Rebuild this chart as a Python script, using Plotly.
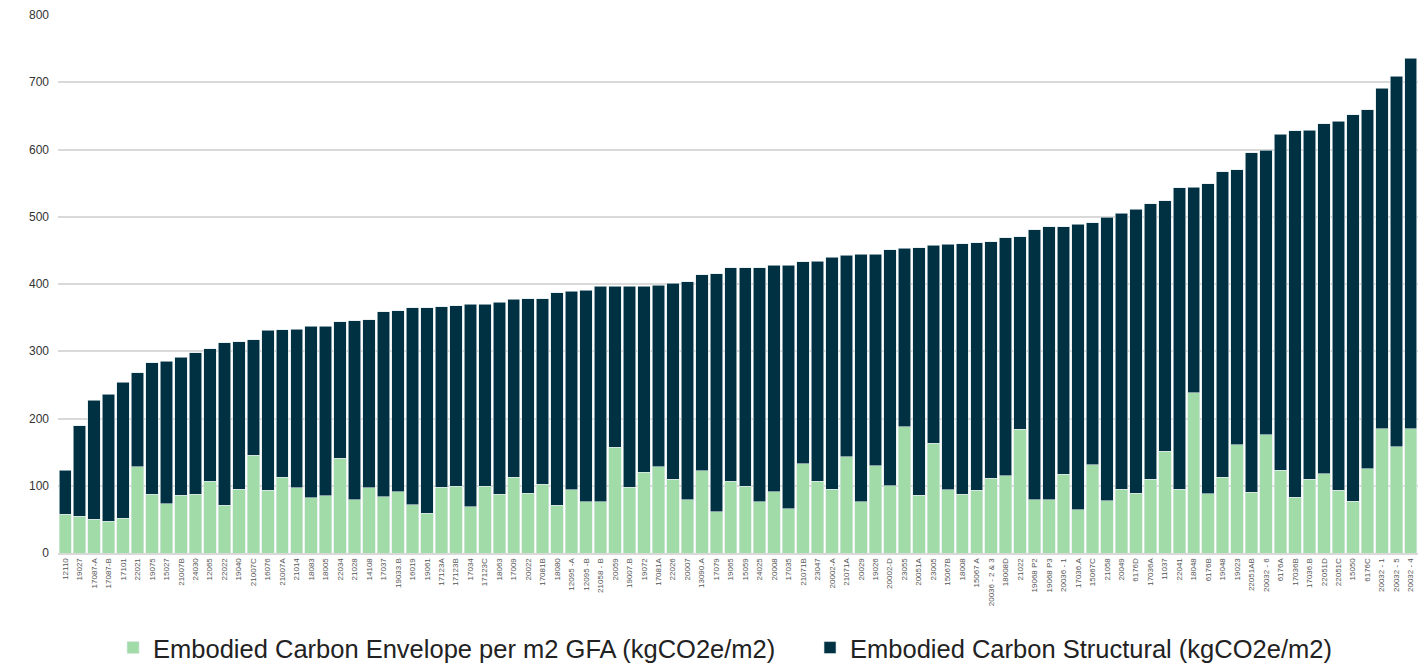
import plotly.graph_objects as go

projects = [
    "12110", "19027", "17087-A", "17087-B", "17101", "22021", "19075", "15027",
    "21007B", "24030", "12065", "22022", "19040", "21007C", "16076", "21007A",
    "21014", "18083", "18005", "22034", "21028", "14108", "17037", "19033.B",
    "16019", "19061", "17123A", "17123B", "17034", "17123C", "18063", "17009",
    "20022", "17081B", "18080", "12095 -A", "12095 -B", "21058 - B", "20059",
    "19007.B", "19072", "17081A", "22026", "20007", "13090.A", "17079", "19065",
    "15059", "24025", "20008", "17035", "21071B", "23047", "20002-A", "21071A",
    "20029", "19026", "20002-D", "23055", "20051A", "23005", "15067B", "18008",
    "15067 A", "20036 - 2 & 3", "18008D", "21022", "19068 P2", "19068 P3",
    "20036 - 1", "17036.A", "15067C", "21058", "20049", "6176D", "17036A",
    "11037", "22041", "18048", "6176B", "19048", "19023", "22051AB", "20032 - 6",
    "6176A", "17036B", "17036.B", "22051D", "22051C", "15050", "6176C",
    "20032 - 1", "20032 - 5", "20032 - 4",
]

envelope = [
    58, 55, 50, 47, 52, 128, 87, 73, 86, 87, 107, 71, 95, 145, 93, 113,
    97, 82, 85, 141, 79, 97, 84, 91, 72, 59, 98, 99, 69, 99, 87, 113,
    89, 102, 71, 94, 76, 76, 157, 98, 120, 128, 110, 79, 122, 61, 107,
    99, 76, 91, 66, 133, 107, 95, 143, 76, 130, 100, 188, 86, 163, 94, 87,
    93, 111, 115, 184, 79, 79, 117, 64, 131, 78, 95, 89, 110,
    151, 95, 238, 88, 113, 161, 90, 176, 123, 83, 110, 118, 93, 77, 125,
    185, 158, 185,
]

structural = [
    65, 134, 177, 189, 202, 140, 196, 212, 205, 211, 197, 242, 219, 172, 238, 219,
    236, 255, 252, 203, 266, 250, 275, 269, 293, 306, 268, 269, 301, 271, 286, 264,
    289, 276, 316, 295, 315, 321, 240, 299, 277, 270, 291, 324, 292, 354, 317,
    325, 348, 337, 362, 300, 327, 345, 300, 368, 314, 351, 265, 368, 295, 365, 373,
    368, 352, 354, 286, 402, 406, 368, 425, 360, 421, 410, 422, 409,
    373, 448, 306, 461, 454, 409, 505, 423, 500, 545, 519, 520, 549, 575, 534,
    506, 551, 551,
]

green = "#a0dba8"
navy = "#003142"

fig = go.Figure()
fig.add_trace(go.Bar(
    x=projects,
    y=envelope,
    name="Embodied Carbon Envelope per m2 GFA (kgCO2e/m2)",
    marker=dict(color=green, line=dict(color="#dfe8ea", width=0.6)),
    legend="legend",
))
fig.add_trace(go.Bar(
    x=projects,
    y=structural,
    name="Embodied Carbon Structural (kgCO2e/m2)",
    marker=dict(color=navy, line=dict(color="#dfe8ea", width=0.6)),
    legend="legend2",
))

legend_style = dict(
    orientation="h",
    xref="container",
    yref="container",
    xanchor="left",
    y=0.0244,
    yanchor="middle",
    font=dict(size=25.5, color="#222222"),
)

# page body has an 8px margin, so the figure is shifted by 8px in the window
fig.update_layout(
    barmode="stack",
    bargap=0.14,
    width=1412,
    height=656,
    margin=dict(l=50, r=2, t=7, b=111),
    paper_bgcolor="white",
    plot_bgcolor="white",
    font=dict(family="Liberation Sans", color="#333333"),
    showlegend=True,
    legend=dict(legend_style, x=0.0744),
    legend2=dict(legend_style, x=0.568),
    xaxis=dict(
        type="category",
        tickangle=-90,
        tickfont=dict(size=8, color="#555555"),
        showgrid=False,
        showline=True,
        linecolor="#d9d9d9",
        linewidth=2,
        ticks="",
        automargin=False,
    ),
    yaxis=dict(
        range=[0, 800],
        dtick=100,
        showgrid=True,
        gridcolor="#d9d9d9",
        gridwidth=1.5,
        zeroline=False,
        tickfont=dict(size=12, color="#333333"),
        ticks="",
        ticklabelstandoff=8,
        automargin=False,
    ),
)

fig.write_html("out.html")
